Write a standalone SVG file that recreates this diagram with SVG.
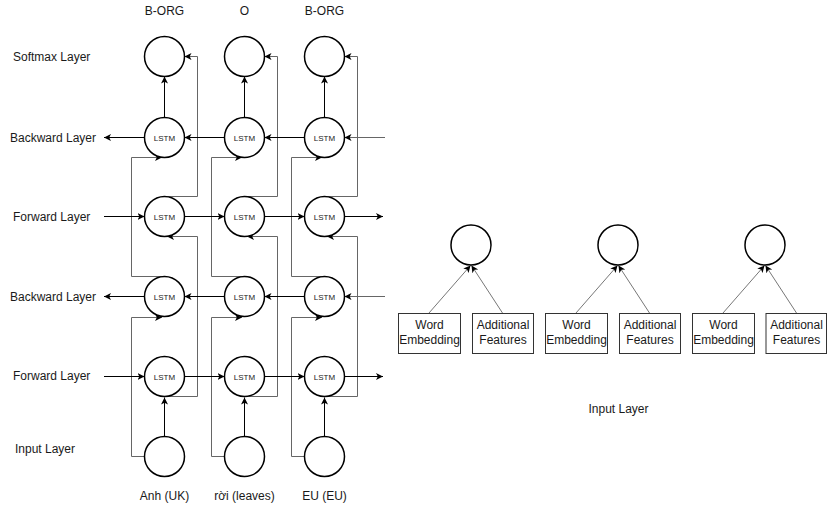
<svg xmlns="http://www.w3.org/2000/svg" width="827" height="507" viewBox="0 0 827 507">
<defs>
<style>
.n{fill:#fff;stroke:#000;stroke-width:1.5}
.b{fill:#fff;stroke:#333;stroke-width:1}
.t{font-family:"Liberation Sans",Arial,sans-serif;font-size:12px;fill:#1a1a1a}
.s{font-family:"Liberation Sans",Arial,sans-serif;font-size:8px;fill:#1a1a1a;text-anchor:middle}
.m{text-anchor:middle}
.k{fill:none;stroke:#000;stroke-width:1;marker-end:url(#ak)}
.g{fill:none;stroke:#666;stroke-width:1;marker-end:url(#ak)}
.h{fill:none;stroke:#777;stroke-width:1;marker-end:url(#ak)}
</style>
<marker id="ak" markerUnits="userSpaceOnUse" markerWidth="8" markerHeight="8" refX="7" refY="3.5" orient="auto">
<path d="M0,0 L7,3.5 L0,7 L1.8,3.5 Z" fill="#000"/>
</marker>
</defs>
<rect width="827" height="507" fill="#fff"/>

<g id="connectors">
<!-- vertical arrows -->
<path class="k" d="M164.5,117 V76.5"/>
<path class="k" d="M244.5,117 V76.5"/>
<path class="k" d="M324.5,117 V76.5"/>
<path class="k" d="M164.5,437 V397.5"/>
<path class="k" d="M244.5,437 V397.5"/>
<path class="k" d="M324.5,437 V397.5"/>
<!-- forward1 to softmax -->
<path class="g" d="M164.5,196.5 H197.5 V56.5 H184.5"/>
<path class="g" d="M244.5,196.5 H277.5 V56.5 H264.5"/>
<path class="g" d="M324.5,196.5 H357.5 V56.5 H344.5"/>
<!-- forward2 to forward1 -->
<path class="g" d="M164.5,396.5 H197.5 V236.5 H167"/>
<path class="g" d="M244.5,396.5 H277.5 V236.5 H247"/>
<path class="g" d="M324.5,396.5 H357.5 V236.5 H327"/>
<!-- backward2 to backward1 -->
<path class="g" d="M164.5,276.5 H131.5 V157.5 H162"/>
<path class="g" d="M244.5,276.5 H211.5 V157.5 H242"/>
<path class="g" d="M324.5,276.5 H291.5 V157.5 H322"/>
<!-- input to backward2 -->
<path class="g" d="M144.5,456.5 H131.5 V317.5 H162"/>
<path class="g" d="M224.5,456.5 H211.5 V317.5 H242"/>
<path class="g" d="M304.5,456.5 H291.5 V317.5 H322"/>
<!-- backward row 1 -->
<path class="g" d="M385,137.5 H344.5"/>
<path class="k" d="M304.5,137.5 H264.5"/>
<path class="k" d="M224.5,137.5 H184.5"/>
<path class="k" d="M144.5,137.5 H104"/>
<!-- forward row 1 -->
<path class="k" d="M104,216.5 H144.5"/>
<path class="k" d="M184.5,216.5 H224.5"/>
<path class="k" d="M264.5,216.5 H304.5"/>
<path class="k" d="M344.5,216.5 H383"/>
<!-- backward row 2 -->
<path class="g" d="M385,296.5 H344.5"/>
<path class="k" d="M304.5,296.5 H264.5"/>
<path class="k" d="M224.5,296.5 H184.5"/>
<path class="k" d="M144.5,296.5 H104"/>
<!-- forward row 2 -->
<path class="k" d="M104,376.5 H144.5"/>
<path class="k" d="M184.5,376.5 H224.5"/>
<path class="k" d="M264.5,376.5 H304.5"/>
<path class="k" d="M344.5,376.5 H383"/>
<!-- input layer right side -->
<path class="h" d="M429,313 L470.5,265.5"/>
<path class="h" d="M502.5,313 L471.5,265.5"/>
<path class="h" d="M576,313 L617.5,265.5"/>
<path class="h" d="M649.5,313 L618.5,265.5"/>
<path class="h" d="M723,313 L764.5,265.5"/>
<path class="h" d="M796.5,313 L765.5,265.5"/>
</g>

<g id="layer-labels">
<text class="t" x="13" y="60.5">Softmax Layer</text>
<text class="t" x="10" y="141.5">Backward Layer</text>
<text class="t" x="13" y="221">Forward Layer</text>
<text class="t" x="10" y="301">Backward Layer</text>
<text class="t" x="13" y="380">Forward Layer</text>
<text class="t" x="15" y="452.5">Input Layer</text>
</g>

<g id="tags">
<text class="t m" x="164.5" y="14.5">B-ORG</text>
<text class="t m" x="244.5" y="14.5">O</text>
<text class="t m" x="324.5" y="14.5">B-ORG</text>
</g>

<g id="words">
<text class="t m" x="164.5" y="500">Anh (UK)</text>
<text class="t m" x="244.5" y="500">rời (leaves)</text>
<text class="t m" x="324.5" y="500">EU (EU)</text>
</g>

<g id="softmax-1"><circle class="n" cx="164.5" cy="56.5" r="20"/></g>
<g id="softmax-2"><circle class="n" cx="244.5" cy="56.5" r="20"/></g>
<g id="softmax-3"><circle class="n" cx="324.5" cy="56.5" r="20"/></g>

<g id="bwd1-1"><circle class="n" cx="164.5" cy="137.5" r="20"/><text class="s" x="164.5" y="140.5">LSTM</text></g>
<g id="bwd1-2"><circle class="n" cx="244.5" cy="137.5" r="20"/><text class="s" x="244.5" y="140.5">LSTM</text></g>
<g id="bwd1-3"><circle class="n" cx="324.5" cy="137.5" r="20"/><text class="s" x="324.5" y="140.5">LSTM</text></g>

<g id="fwd1-1"><circle class="n" cx="164.5" cy="216.5" r="20"/><text class="s" x="164.5" y="219.5">LSTM</text></g>
<g id="fwd1-2"><circle class="n" cx="244.5" cy="216.5" r="20"/><text class="s" x="244.5" y="219.5">LSTM</text></g>
<g id="fwd1-3"><circle class="n" cx="324.5" cy="216.5" r="20"/><text class="s" x="324.5" y="219.5">LSTM</text></g>

<g id="bwd2-1"><circle class="n" cx="164.5" cy="296.5" r="20"/><text class="s" x="164.5" y="299.5">LSTM</text></g>
<g id="bwd2-2"><circle class="n" cx="244.5" cy="296.5" r="20"/><text class="s" x="244.5" y="299.5">LSTM</text></g>
<g id="bwd2-3"><circle class="n" cx="324.5" cy="296.5" r="20"/><text class="s" x="324.5" y="299.5">LSTM</text></g>

<g id="fwd2-1"><circle class="n" cx="164.5" cy="376.5" r="20"/><text class="s" x="164.5" y="379.5">LSTM</text></g>
<g id="fwd2-2"><circle class="n" cx="244.5" cy="376.5" r="20"/><text class="s" x="244.5" y="379.5">LSTM</text></g>
<g id="fwd2-3"><circle class="n" cx="324.5" cy="376.5" r="20"/><text class="s" x="324.5" y="379.5">LSTM</text></g>

<g id="input-1"><circle class="n" cx="164.5" cy="456.5" r="20"/></g>
<g id="input-2"><circle class="n" cx="244.5" cy="456.5" r="20"/></g>
<g id="input-3"><circle class="n" cx="324.5" cy="456.5" r="20"/></g>

<g id="concat-1"><circle class="n" cx="471" cy="245" r="20"/></g>
<g id="concat-2"><circle class="n" cx="618" cy="245" r="20"/></g>
<g id="concat-3"><circle class="n" cx="765" cy="245" r="20"/></g>

<g id="word-emb-1"><rect class="b" x="398.5" y="313.5" width="62" height="40"/><text class="t m" x="429.5" y="329">Word</text><text class="t m" x="429.5" y="343.5">Embedding</text></g>
<g id="add-feat-1"><rect class="b" x="472.5" y="313.5" width="61" height="40"/><text class="t m" x="503" y="329">Additional</text><text class="t m" x="503" y="343.5">Features</text></g>
<g id="word-emb-2"><rect class="b" x="545.5" y="313.5" width="62" height="40"/><text class="t m" x="576.5" y="329">Word</text><text class="t m" x="576.5" y="343.5">Embedding</text></g>
<g id="add-feat-2"><rect class="b" x="619.5" y="313.5" width="61" height="40"/><text class="t m" x="650" y="329">Additional</text><text class="t m" x="650" y="343.5">Features</text></g>
<g id="word-emb-3"><rect class="b" x="692.5" y="313.5" width="62" height="40"/><text class="t m" x="723.5" y="329">Word</text><text class="t m" x="723.5" y="343.5">Embedding</text></g>
<g id="add-feat-3"><rect class="b" x="766" y="313.5" width="60.5" height="40"/><text class="t m" x="796.5" y="329">Additional</text><text class="t m" x="796.5" y="343.5">Features</text></g>

<g id="input-layer-label"><text class="t m" x="618.5" y="413">Input Layer</text></g>
</svg>
